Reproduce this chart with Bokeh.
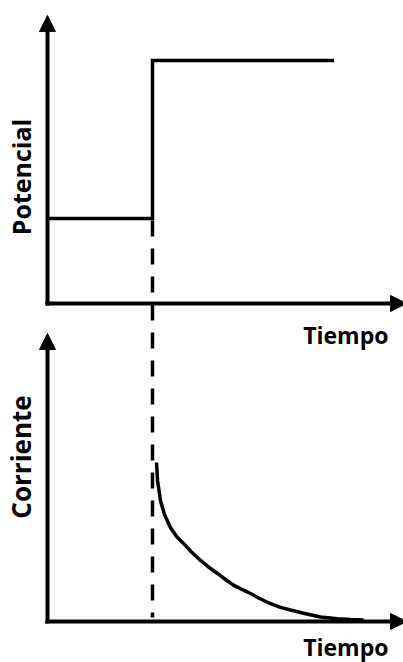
import numpy as np
from bokeh.plotting import figure
from bokeh.models import Range1d, Arrow, NormalHead, Label
from bokeh.embed import file_html
from bokeh.resources import INLINE

# ---- data (time in arbitrary units, step at t = 1) ----
step_time = [0.0, 1.0, 1.0, 2.73]
potential = [0.35, 0.35, 1.0, 1.0]
E_low = 0.35
t_step = 1.0

current_time = [1.038, 1.048, 1.076, 1.114, 1.171, 1.229, 1.295, 1.371, 1.457,
                1.533, 1.619, 1.695, 1.771, 1.857, 1.933, 2.010, 2.095, 2.219,
                2.314, 2.438, 2.600, 2.762, 2.886, 3.010]
current = [1.000, 0.887, 0.761, 0.673, 0.591, 0.535, 0.491, 0.437, 0.384,
           0.343, 0.302, 0.264, 0.229, 0.200, 0.176, 0.148, 0.121, 0.089,
           0.072, 0.052, 0.028, 0.017, 0.012, 0.009]

label_potential = "Potencial"
label_current = "Corriente"
label_time = "Tiempo"

W, H = 403, 662
FONT = "Open Sans"

xr = Range1d(-0.4476, 3.3905)
yr = Range1d(-1.4774, 1.2469)
ir = Range1d(-0.2579, 3.9057)

p = figure(width=W, height=H, x_range=xr, y_range=yr,
           output_backend="svg", toolbar_location=None, min_border=0,
           x_axis_location=None, y_axis_location=None)
p.extra_y_ranges = {"current": ir}
p.grid.visible = False
p.outline_line_color = None
p.background_fill_color = "white"
p.border_fill_color = "white"

# dashed marker of the potential step, through both panels
f = (E_low - yr.start) / (yr.end - yr.start)
dash_top = ir.start + f * (ir.end - ir.start)
p.line([t_step, t_step], [dash_top, 0.025], y_range_name="current",
       line_color="black", line_width=3.5, line_dash="16 12",
       line_dash_offset=26, line_cap="butt")

# potential step
p.line(step_time, potential, line_color="black", line_width=3.5,
       line_join="miter", line_cap="butt")

# current transient
p.line(current_time, current, y_range_name="current", line_color="black",
       line_width=3.5, line_join="round", line_cap="butt")

def axis_arrow(x0, y0, x1, y1, rng="default"):
    p.add_layout(Arrow(x_start=x0, y_start=y0, x_end=x1, y_end=y1,
                       y_range_name=rng, line_color="black", line_width=4,
                       end=NormalHead(size=16, fill_color="black",
                                      line_color="black", line_width=1)))

axis_arrow(0, -0.008, 0, 1.185)
axis_arrow(-0.02, 0, 3.419, 0)
axis_arrow(0, -0.012, 0, 1.811, "current")
axis_arrow(-0.02, 0, 3.419, 0, "current")

def lab(x, y, text, rng="default", angle=0.0, align="center", size="24px"):
    p.add_layout(Label(x=x, y=y, text=text, y_range_name=rng, angle=angle,
                       text_font=FONT, text_font_style="bold",
                       text_font_size=size, text_color="black",
                       text_align=align, text_baseline="middle"))

lab(-0.257, 0.5206, label_potential, angle=np.pi / 2, size="25px")
lab(-0.257, 1.0346, label_current, "current", angle=np.pi / 2, size="26px")
lab(3.2476, -0.1317, label_time, align="right", size="23px")
lab(3.2476, -0.160, label_time, "current", align="right", size="23px")

open("out.html", "w").write(file_html(p, INLINE))
